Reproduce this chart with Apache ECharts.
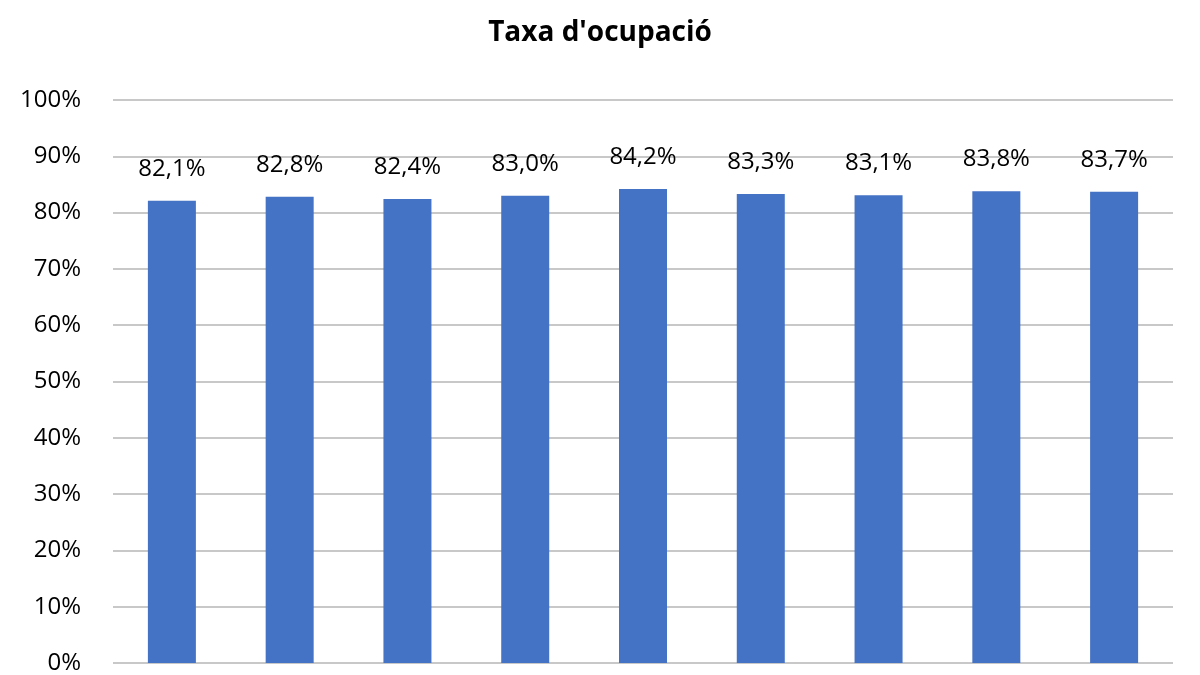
<!DOCTYPE html>
<html><head><meta charset="utf-8">
<script src="https://cdn.jsdelivr.net/npm/echarts@6/dist/echarts.min.js"></script>
<style>html,body{margin:0;padding:0;background:#fff;overflow:hidden}#c{width:1200px;height:675px}</style>
</head><body><div id="c"></div>
<script>
const categories = ['1','2','3','4','5','6','7','8','9'];
const values = [82.1, 82.8, 82.4, 83.0, 84.2, 83.3, 83.1, 83.8, 83.7];
const yTicks = [0, 10, 20, 30, 40, 50, 60, 70, 80, 90, 100];

const chart = echarts.init(document.getElementById('c'));
chart.setOption({
  animation: false,
  title: {text: "Taxa d'ocupació", left: 'center', top: 14,
    textStyle: {fontFamily: 'Open Sans', fontWeight: 'bold', fontSize: 28, color: '#000'}},
  grid: {left: 113, width: 1060, top: 100, height: 630, containLabel: false},
  xAxis: {type: 'category', data: categories, axisLine: {show: false}, axisTick: {show: false}, axisLabel: {show: false}},
  yAxis: {type: 'value', min: yTicks[0], max: yTicks[yTicks.length-1], interval: 10,
    axisLine: {show: false}, axisTick: {show: false},
    splitLine: {lineStyle: {color: '#c8c8c8', width: 2}},
    axisLabel: {formatter: v => v + '%', fontFamily: 'Open Sans', fontSize: 24, color: '#000', margin: 32}},
  series: [{type: 'bar', data: values, barWidth: 48, itemStyle: {color: '#4472c4'},
    label: {show: true, position: 'top', distance: 20, fontFamily: 'Open Sans', fontSize: 24, color: '#000',
      formatter: p => p.value.toFixed(1).replace('.', ',') + '%'}}]
});
</script></body></html>
